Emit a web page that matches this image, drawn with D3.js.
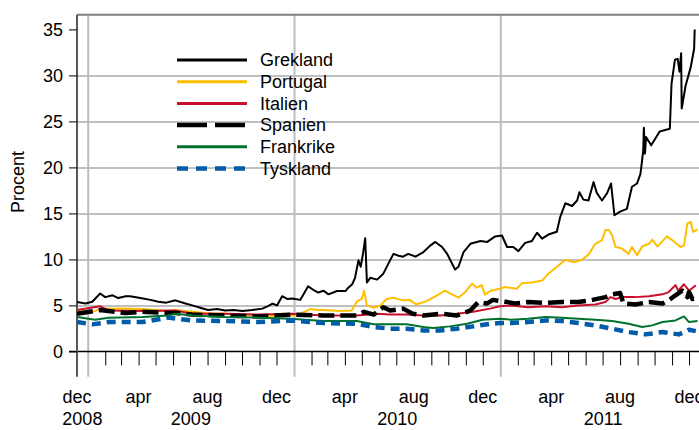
<html>
<head>
  <title>Statsobligationsräntor</title>
  <script src="https://cdnjs.cloudflare.com/ajax/libs/d3/7.8.5/d3.min.js"></script>
  <style>
    body { margin: 0; background: #fff; }
    text { font-family: "Liberation Sans", Arial, sans-serif; font-size: 18px; fill: #000; }
  </style>
</head>
<body>

<script type="text/javascript">
  // series, [date, procent]
  var greece = [["2008-12-13",5.36],["2008-12-28",5.2],["2009-01-09",5.4],["2009-01-23",6.3],["2009-02-01",5.9],["2009-02-14",6.1],["2009-02-24",5.8],["2009-03-09",6.0],["2009-03-17",6.0],["2009-04-04",5.8],["2009-04-22",5.6],["2009-05-06",5.4],["2009-05-20",5.3],["2009-06-05",5.55],["2009-06-23",5.2],["2009-07-05",5.0],["2009-07-19",4.75],["2009-08-02",4.5],["2009-08-18",4.6],["2009-09-01",4.45],["2009-09-16",4.5],["2009-10-02",4.4],["2009-10-19",4.5],["2009-11-06",4.65],["2009-11-15",4.9],["2009-11-24",5.2],["2009-12-02",5.0],["2009-12-11",6.0],["2009-12-20",5.7],["2009-12-29",5.75],["2010-01-12",5.6],["2010-01-26",7.07],["2010-02-04",6.7],["2010-02-13",6.4],["2010-02-22",6.6],["2010-03-03",6.2],["2010-03-18",6.56],["2010-04-02",6.56],["2010-04-07",6.93],["2010-04-14",7.3],["2010-04-19",8.0],["2010-04-25",9.9],["2010-04-29",9.2],["2010-05-03",10.6],["2010-05-07",12.3],["2010-05-10",7.5],["2010-05-16",8.0],["2010-05-28",7.8],["2010-06-08",8.45],["2010-06-17",9.54],["2010-06-26",10.6],["2010-07-05",10.4],["2010-07-13",10.3],["2010-07-22",10.6],["2010-08-04",10.3],["2010-08-18",10.8],["2010-08-30",11.5],["2010-09-08",11.9],["2010-09-20",11.35],["2010-09-29",10.6],["2010-10-08",9.5],["2010-10-13",8.9],["2010-10-19",9.2],["2010-10-28",10.8],["2010-11-09",11.7],["2010-11-27",12.0],["2010-12-09",11.9],["2010-12-23",12.5],["2011-01-04",12.6],["2011-01-13",11.35],["2011-01-24",11.35],["2011-02-02",10.9],["2011-02-14",11.8],["2011-02-26",12.0],["2011-03-07",12.9],["2011-03-16",12.26],["2011-03-27",12.7],["2011-04-11",13.0],["2011-04-17",14.6],["2011-04-26",16.1],["2011-05-08",15.8],["2011-05-17",16.4],["2011-05-21",17.3],["2011-05-28",16.5],["2011-06-06",16.4],["2011-06-15",18.4],["2011-06-21",17.2],["2011-06-30",16.4],["2011-07-09",17.2],["2011-07-16",18.25],["2011-07-22",14.8],["2011-08-01",15.2],["2011-08-13",15.5],["2011-08-22",17.9],["2011-08-31",18.25],["2011-09-06",19.3],["2011-09-09",20.8],["2011-09-11",21.9],["2011-09-12",24.3],["2011-09-14",21.5],["2011-09-16",23.3],["2011-09-25",22.4],["2011-10-10",23.9],["2011-10-28",24.2],["2011-10-31",29.1],["2011-11-06",31.7],["2011-11-11",31.8],["2011-11-14",30.4],["2011-11-17",32.4],["2011-11-18",26.4],["2011-11-25",28.9],["2011-12-04",30.9],["2011-12-10",32.9],["2011-12-11",35.0]];

  var portugal = [["2008-12-13",4.4],["2009-01-09",4.3],["2009-01-23",4.6],["2009-02-24",4.65],["2009-04-08",4.6],["2009-05-23",4.4],["2009-06-05",4.5],["2009-07-05",4.3],["2009-08-02",4.15],["2009-09-01",4.1],["2009-10-30",3.95],["2009-11-24",3.85],["2009-12-29",3.9],["2010-01-12",4.1],["2010-01-30",4.6],["2010-02-11",4.5],["2010-02-22",4.5],["2010-03-24",4.4],["2010-04-13",4.45],["2010-04-22",5.4],["2010-05-01",5.7],["2010-05-05",6.6],["2010-05-10",5.0],["2010-05-22",4.75],["2010-06-03",5.0],["2010-06-14",5.7],["2010-06-26",5.84],["2010-07-13",5.55],["2010-07-25",5.6],["2010-08-05",5.1],["2010-08-24",5.47],["2010-09-11",6.1],["2010-09-25",6.6],["2010-10-04",6.3],["2010-10-19",5.84],["2010-10-31",6.45],["2010-11-12",7.37],["2010-11-20",6.93],["2010-11-29",7.2],["2010-12-05",6.17],["2010-12-14",6.56],["2010-12-31",6.8],["2011-01-09",7.0],["2011-01-30",6.8],["2011-02-08",7.4],["2011-02-26",7.5],["2011-03-16",7.7],["2011-03-27",8.45],["2011-04-11",9.17],["2011-04-26",9.97],["2011-05-11",9.7],["2011-05-26",9.97],["2011-06-07",10.6],["2011-06-18",11.7],["2011-06-30",12.1],["2011-07-06",13.2],["2011-07-12",13.2],["2011-07-18",12.6],["2011-07-24",11.35],["2011-08-04",11.2],["2011-08-16",10.6],["2011-08-22",11.35],["2011-08-31",10.45],["2011-09-09",11.4],["2011-09-21",11.7],["2011-09-27",12.15],["2011-10-06",11.4],["2011-10-23",12.5],["2011-11-01",12.1],["2011-11-16",11.35],["2011-11-22",11.5],["2011-11-28",13.9],["2011-12-04",14.1],["2011-12-08",13.0],["2011-12-16",13.25]];

  var italy = [["2008-12-13",4.5],["2009-01-23",4.9],["2009-02-07",4.45],["2009-04-08",4.4],["2009-06-05",4.45],["2009-07-05",4.1],["2009-09-01",4.1],["2009-10-30",4.0],["2009-12-29",4.1],["2010-02-22",3.9],["2010-04-22",3.9],["2010-05-28",4.1],["2010-06-20",4.0],["2010-07-19",4.0],["2010-08-18",3.9],["2010-09-17",3.9],["2010-10-16",4.1],["2010-11-14",4.3],["2010-12-14",4.65],["2010-12-31",4.9],["2011-01-21",5.0],["2011-02-19",4.8],["2011-03-22",4.9],["2011-04-20",4.8],["2011-05-19",5.0],["2011-06-18",5.1],["2011-07-06",5.36],["2011-07-15",5.9],["2011-07-24",5.7],["2011-08-04",5.9],["2011-08-28",5.9],["2011-09-21",6.0],["2011-10-15",6.2],["2011-10-26",6.45],["2011-11-07",7.2],["2011-11-12",6.6],["2011-11-22",7.3],["2011-12-01",6.6],["2011-12-13",7.2]];

  var spain = [["2008-12-13",4.1],["2009-01-23",4.5],["2009-03-09",4.17],["2009-04-08",4.3],["2009-06-05",4.17],["2009-07-05",4.0],["2009-09-01",3.9],["2009-10-30",3.8],["2009-12-29",4.0],["2010-02-22",3.9],["2010-04-22",3.9],["2010-05-05",4.3],["2010-05-22",4.0],["2010-06-08",4.8],["2010-06-20",4.45],["2010-07-13",4.65],["2010-07-30",4.1],["2010-08-18",3.9],["2010-09-17",4.1],["2010-10-16",3.9],["2010-11-09",4.45],["2010-11-23",5.36],["2010-12-08",5.2],["2010-12-19",5.6],["2010-12-31",5.47],["2011-01-14",5.36],["2011-01-27",5.2],["2011-02-19",5.36],["2011-03-22",5.26],["2011-04-20",5.36],["2011-05-19",5.36],["2011-06-13",5.6],["2011-07-06",5.9],["2011-07-18",6.2],["2011-08-01",6.35],["2011-08-07",5.2],["2011-08-28",5.1],["2011-09-21",5.36],["2011-10-15",5.2],["2011-10-26",5.55],["2011-11-07",6.1],["2011-11-19",6.6],["2011-11-28",5.9],["2011-12-01",6.45],["2011-12-07",5.7],["2011-12-16",5.84]];

  var france = [["2008-12-13",3.73],["2009-01-14",3.45],["2009-02-07",3.67],["2009-04-08",3.73],["2009-05-23",3.9],["2009-06-05",4.1],["2009-07-05",3.9],["2009-09-01",3.73],["2009-10-30",3.67],["2009-12-26",3.55],["2010-02-22",3.3],["2010-04-22",3.3],["2010-05-22",2.94],["2010-06-20",2.94],["2010-07-19",2.94],["2010-08-18",2.65],["2010-09-04",2.54],["2010-10-04",2.72],["2010-11-03",3.0],["2010-12-01",3.45],["2010-12-31",3.55],["2011-01-21",3.45],["2011-02-19",3.55],["2011-03-22",3.73],["2011-04-20",3.67],["2011-05-19",3.55],["2011-06-18",3.45],["2011-07-18",3.3],["2011-08-16",3.0],["2011-09-09",2.65],["2011-09-27",2.83],["2011-10-15",3.19],["2011-11-07",3.37],["2011-11-22",3.8],["2011-12-01",3.19],["2011-12-16",3.3]];

  var germany = [["2008-12-13",3.19],["2009-01-09",2.94],["2009-02-07",3.19],["2009-04-08",3.19],["2009-05-23",3.67],["2009-07-05",3.37],["2009-09-01",3.3],["2009-10-30",3.19],["2009-12-29",3.37],["2010-02-22",3.08],["2010-04-22",3.0],["2010-05-22",2.65],["2010-06-20",2.47],["2010-07-19",2.47],["2010-08-18",2.28],["2010-09-17",2.28],["2010-10-16",2.47],["2010-11-14",2.72],["2010-12-14",3.0],["2010-12-31",3.08],["2011-01-21",3.08],["2011-02-19",3.19],["2011-03-22",3.37],["2011-04-20",3.3],["2011-05-19",3.08],["2011-06-18",2.83],["2011-07-18",2.47],["2011-08-16",2.1],["2011-09-15",1.85],["2011-10-15",2.1],["2011-11-13",1.85],["2011-12-01",2.36],["2011-12-13",2.2]];

  var countries = ["Grekland", "Portugal", "Italien", "Spanien", "Frankrike", "Tyskland"];
  var yTicks = [0, 5, 10, 15, 20, 25, 30, 35];
  var monthLabels = ["dec", "apr", "aug", "dec", "apr", "aug", "dec", "apr", "aug", "dec"];
  var monthLabelDates = ["2008-12-13", "2009-04-01", "2009-08-01", "2009-12-01", "2010-04-01", "2010-08-01", "2010-12-01", "2011-04-01", "2011-08-01", "2011-12-01"];
  var yearLabels = ["2008", "2009", "2010", "2011"];

  var parse = d3.timeParse("%Y-%m-%d");
  var series = [greece, portugal, italy, spain, france, germany];

  // line styles per country
  var styles = [
    { color: "#000000", width: 2, dash: null, legendDash: null },
    { color: "#ffbf00", width: 2, dash: null, legendDash: null },
    { color: "#c8102e", width: 2, dash: null, legendDash: null },
    { color: "#000000", width: 4.5, dash: "16,6", legendDash: "30,8" },
    { color: "#00722e", width: 2, dash: null, legendDash: null },
    { color: "#005ca8", width: 4.5, dash: "9,6", legendDash: "11,8" }
  ];

  var width = 699, height = 430;
  var plotLeft = 77, plotRight = 706, plotTop = 14.7, plotBottom = 376.7;
  var xStart = parse("2008-12-13"), xEnd = parse("2011-12-31");

  var svg = d3.select("body")
    .append("svg")
    .attr("width", width)
    .attr("height", height);

  var x = d3.scaleTime().domain([xStart, xEnd]).range([plotLeft, plotRight]);
  var y = d3.scaleLinear().domain([-2.75, 36.6]).range([plotBottom, plotTop]);

  // horizontal grid
  svg.append("g")
    .attr("transform", "translate(" + plotLeft + ",0)")
    .call(d3.axisRight(y).tickValues([5, 10, 15, 20, 25, 30]).tickSize(width - plotLeft).tickFormat(""))
    .call(function (g) {
      g.select(".domain").remove();
      g.selectAll("line").attr("stroke", "#c0c0c0").attr("stroke-width", 2);
    });

  // vertical grid at year starts
  var yearStarts = [parse("2009-01-01"), parse("2010-01-01"), parse("2011-01-01")];
  svg.append("g")
    .attr("transform", "translate(0," + plotBottom + ")")
    .call(d3.axisTop(x).tickValues(yearStarts).tickSize(plotBottom - plotTop).tickFormat(""))
    .call(function (g) {
      g.select(".domain").remove();
      g.selectAll("line").attr("stroke", "#bdbdbd").attr("stroke-width", 2);
    });

  // top border
  svg.append("line")
    .attr("x1", plotLeft).attr("x2", width)
    .attr("y1", plotTop).attr("y2", plotTop)
    .attr("stroke", "#7f7f7f").attr("stroke-width", 2);

  // month ticks on the zero line
  var months = d3.timeMonth.range(parse("2009-01-01"), xEnd).filter(function (d) {
    return d.getMonth() !== 0;
  });
  svg.append("g")
    .attr("transform", "translate(0," + y(0) + ")")
    .call(d3.axisBottom(x).tickValues(months).tickSize(14).tickSizeOuter(0).tickFormat(""))
    .call(function (g) {
      g.select(".domain").attr("d", "M" + (plotLeft - 8) + ",0H" + width).attr("stroke", "#000").attr("stroke-width", 1.5);
      g.selectAll("line").attr("stroke", "#000").attr("stroke-width", 1);
    });

  // y axis
  svg.append("g")
    .attr("transform", "translate(" + plotLeft + ",0)")
    .call(d3.axisLeft(y).tickValues(yTicks).tickSize(8).tickPadding(6).tickSizeOuter(0))
    .call(function (g) {
      g.select(".domain").attr("d", "M0," + plotTop + "V" + plotBottom).attr("stroke", "#595959").attr("stroke-width", 2);
      g.selectAll("line").attr("stroke", "#000").attr("stroke-width", 1);
      g.selectAll("text").attr("font-size", 18).attr("font-family", null).attr("dy", "0.35em");
    });

  svg.append("text")
    .attr("transform", "translate(24," + 182 + ") rotate(-90)")
    .attr("text-anchor", "middle")
    .text("Procent");

  // x labels
  svg.append("g").selectAll("text")
    .data(monthLabels)
    .enter().append("text")
    .attr("x", function (d, i) { return x(parse(monthLabelDates[i])); })
    .attr("y", 403)
    .attr("text-anchor", "middle")
    .text(function (d) { return d; });

  svg.append("g").selectAll("text")
    .data(yearLabels)
    .enter().append("text")
    .attr("x", function (d) {
      var a = d3.max([xStart, parse(d + "-01-01")]);
      var b = d3.min([xEnd, parse((+d + 1) + "-01-01")]);
      return (x(a) + x(b)) / 2;
    })
    .attr("y", 425)
    .attr("text-anchor", "middle")
    .text(function (d) { return d; });

  // lines
  var line = d3.line()
    .x(function (d) { return x(parse(d[0])); })
    .y(function (d) { return y(d[1]); });

  svg.append("g").selectAll("path")
    .data(series)
    .enter().append("path")
    .attr("d", line)
    .attr("fill", "none")
    .attr("stroke", function (d, i) { return styles[i].color; })
    .attr("stroke-width", function (d, i) { return styles[i].width; })
    .attr("stroke-dasharray", function (d, i) { return styles[i].dash; })
    .attr("stroke-linejoin", "round");

  // legend
  var legend = svg.append("g").selectAll("g")
    .data(countries)
    .enter().append("g")
    .attr("transform", function (d, i) { return "translate(177," + (60 + i * 21.7) + ")"; });

  legend.append("line")
    .attr("x1", 0).attr("x2", 70)
    .attr("stroke", function (d, i) { return styles[i].color; })
    .attr("stroke-width", function (d, i) { return styles[i].width > 3 ? 4.5 : 3; })
    .attr("stroke-dasharray", function (d, i) { return styles[i].legendDash; });

  legend.append("text")
    .attr("x", 83)
    .attr("dy", "0.35em")
    .text(function (d) { return d; });
</script>
</body>
</html>
